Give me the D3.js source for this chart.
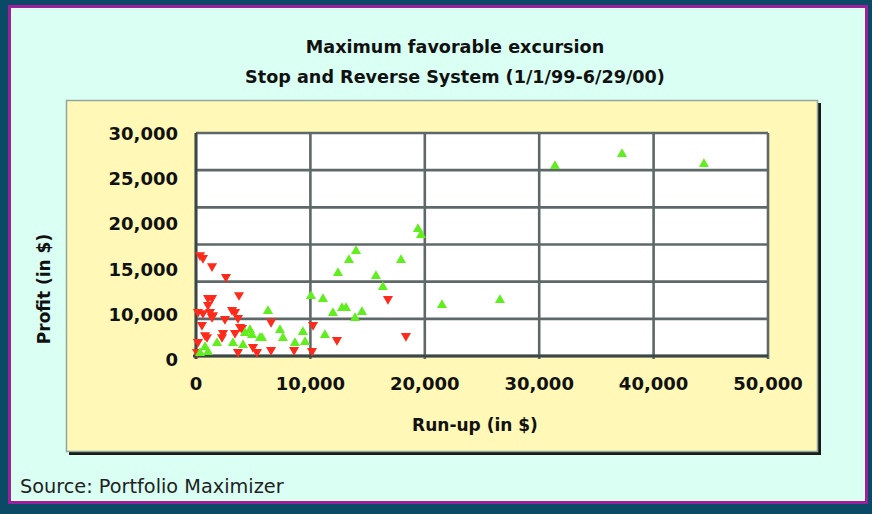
<!DOCTYPE html>
<html><head><meta charset="utf-8">
<script src="https://cdn.jsdelivr.net/npm/d3@7"></script>
<style>html,body{margin:0;padding:0;background:#0b4a66;} svg{display:block}</style>
</head><body>
<svg id="c" width="872" height="514"></svg>
<script>
// ---- data ----
const titleLines = ["Maximum favorable excursion", "Stop and Reverse System (1/1/99-6/29/00)"];
const xLabel = "Run-up (in $)";
const yLabel = "Profit (in $)";
const sourceText = "Source: Portfolio Maximizer";
const xTickValues = [0, 10000, 20000, 30000, 40000, 50000];
const xTickLabels = ["0", "10,000", "20,000", "30,000", "40,000", "50,000"];
const yTickLabels = ["30,000", "25,000", "20,000", "15,000", "10,000", "0"];
const yGridValues = [0, 5000, 10000, 15000, 20000, 25000, 30000];

// green up-triangles
const upRunUp  = [31380, 37240, 44400, 19670, 19400, 13990, 13370, 17920, 12410, 15730, 16340, 10050, 11100, 21500, 26570, 11970, 12760, 13110, 14510, 13900, 9350, 9530, 6290, 7340, 7600, 5770, 8650, 11270, 4720, 4280, 4890, 5590, 3230, 4110, 1840, 790, 1050, 350];
const upProfit = [25560, 27170, 25820, 16270, 17080, 14120, 12910, 12910, 11160, 10760, 9280, 8070, 7670, 6860, 7530, 5780, 6460, 6460, 5920, 5110, 3230, 1880, 6050, 3500, 2420, 2420, 1750, 2820, 3500, 3090, 2820, 2420, 1750, 1480, 1750, 1210, 540, 400];

// red down-triangles
const downRunUp  = [350, 610, 1400, 2620, 3760, 1050, 1400, 1050, 3150, 3410, 170, 610, 1400, 2530, 3670, 520, 3850, 2360, 790, 3410, 170, 4980, 5330, 3670, 90, 6560, 6560, 8570, 10140, 10230, 12320, 16780, 18350, 960, 2270, 4020, 1490, 1220];
const downProfit = [13580, 13180, 12100, 10630, 8200, 7800, 7800, 6860, 6190, 5920, 5920, 5780, 5250, 4980, 5110, 4170, 3900, 3090, 2820, 3090, 1880, 1210, 540, 540, 540, 4570, 810, 810, 670, 4170, 2150, 7670, 2690, 2550, 2550, 3770, 5510, 5920];

// ---- layout ----
const W = 872, H = 514;
const plot = {left: 196, right: 768, top: 133, bottom: 356};
const svg = d3.select("#c");

// outer frame
svg.append("rect").attr("x", 0).attr("y", 0).attr("width", W).attr("height", H).attr("fill", "#0b4a66");
svg.append("rect").attr("x", 9.5).attr("y", 6.5).attr("width", 857).attr("height", 496)
  .attr("fill", "#dafff3").attr("stroke", "#9c1f9e").attr("stroke-width", 3);

// yellow panel with shadow
svg.append("rect").attr("x", 69).attr("y", 103).attr("width", 752).attr("height", 352).attr("fill", "#1a1a1a");
svg.append("rect").attr("x", 66.5).attr("y", 100.5).attr("width", 751).attr("height", 351)
  .attr("fill", "#fff8b6").attr("stroke", "#8fa7a0").attr("stroke-width", 1.5);

// titles
const font = "'DejaVu Sans', Verdana, sans-serif";
svg.selectAll("text.title").data(titleLines).join("text").attr("class", "title")
  .attr("x", 455).attr("y", (d, i) => 53 + i * 30)
  .attr("text-anchor", "middle").attr("font-family", font).attr("font-weight", "bold")
  .attr("font-size", 17.6).attr("fill", "#111").text(d => d);

// scales
const x = d3.scaleLinear().domain([0, 50000]).range([plot.left, plot.right]);
const y = d3.scaleLinear().domain([0, 30000]).range([plot.bottom, plot.top]);
const yLab = d3.scalePoint().domain(yTickLabels).range([133, 359]);

// plot background
svg.append("rect").attr("x", plot.left).attr("y", plot.top)
  .attr("width", plot.right - plot.left).attr("height", plot.bottom - plot.top).attr("fill", "#ffffff");

// gridlines
const g = svg.append("g");
g.selectAll("line.h").data(yGridValues).join("line").attr("class", "h")
  .attr("x1", plot.left).attr("x2", plot.right).attr("y1", d => y(d)).attr("y2", d => y(d))
  .attr("stroke", "#5e6868").attr("stroke-width", 2.6);
g.selectAll("line.v").data(xTickValues).join("line").attr("class", "v")
  .attr("y1", plot.top).attr("y2", plot.bottom + 3).attr("x1", d => x(d)).attr("x2", d => x(d))
  .attr("stroke", "#5e6868").attr("stroke-width", 2.6);
// axes lines darker
svg.append("line").attr("x1", plot.left).attr("x2", plot.left).attr("y1", plot.top).attr("y2", plot.bottom + 3)
  .attr("stroke", "#3b4646").attr("stroke-width", 2.8);
svg.append("line").attr("x1", plot.left - 3).attr("x2", plot.right).attr("y1", plot.bottom).attr("y2", plot.bottom)
  .attr("stroke", "#3b4646").attr("stroke-width", 2.8);

// tick labels
svg.selectAll("text.xt").data(xTickValues).join("text").attr("class", "xt")
  .attr("x", d => x(d)).attr("y", 390).attr("text-anchor", "middle")
  .attr("font-family", font).attr("font-weight", "bold").attr("font-size", 18).attr("fill", "#111")
  .text((d, i) => xTickLabels[i]);
svg.selectAll("text.yt").data(yTickLabels).join("text").attr("class", "yt")
  .attr("x", 178).attr("y", d => yLab(d) + 7).attr("text-anchor", "end")
  .attr("font-family", font).attr("font-weight", "bold").attr("font-size", 18).attr("fill", "#111")
  .text(d => d);

// axis titles
svg.append("text").attr("x", 475).attr("y", 431).attr("text-anchor", "middle")
  .attr("font-family", font).attr("font-weight", "bold").attr("font-size", 17).attr("fill", "#111").text(xLabel);
svg.append("text").attr("transform", "translate(50,289) rotate(-90)").attr("text-anchor", "middle")
  .attr("font-family", font).attr("font-weight", "bold").attr("font-size", 17).attr("fill", "#111").text(yLabel);

// source
svg.append("text").attr("x", 20).attr("y", 493).attr("font-family", font)
  .attr("font-size", 19.3).attr("fill", "#222").text(sourceText);

// markers
const tri = d3.symbol().type(d3.symbolTriangle).size(44);
const ups = upRunUp.map((v, i) => ({x: v, y: upProfit[i]}));
const downs = downRunUp.map((v, i) => ({x: v, y: downProfit[i]}));
svg.append("g").selectAll("path").data(downs).join("path")
  .attr("d", tri).attr("fill", "#ff2a1a")
  .attr("transform", d => `translate(${x(d.x)},${y(d.y)}) rotate(180)`);
svg.append("g").selectAll("path").data(ups).join("path")
  .attr("d", tri).attr("fill", "#60ee1e")
  .attr("transform", d => `translate(${x(d.x)},${y(d.y)})`);
</script>
</body></html>
